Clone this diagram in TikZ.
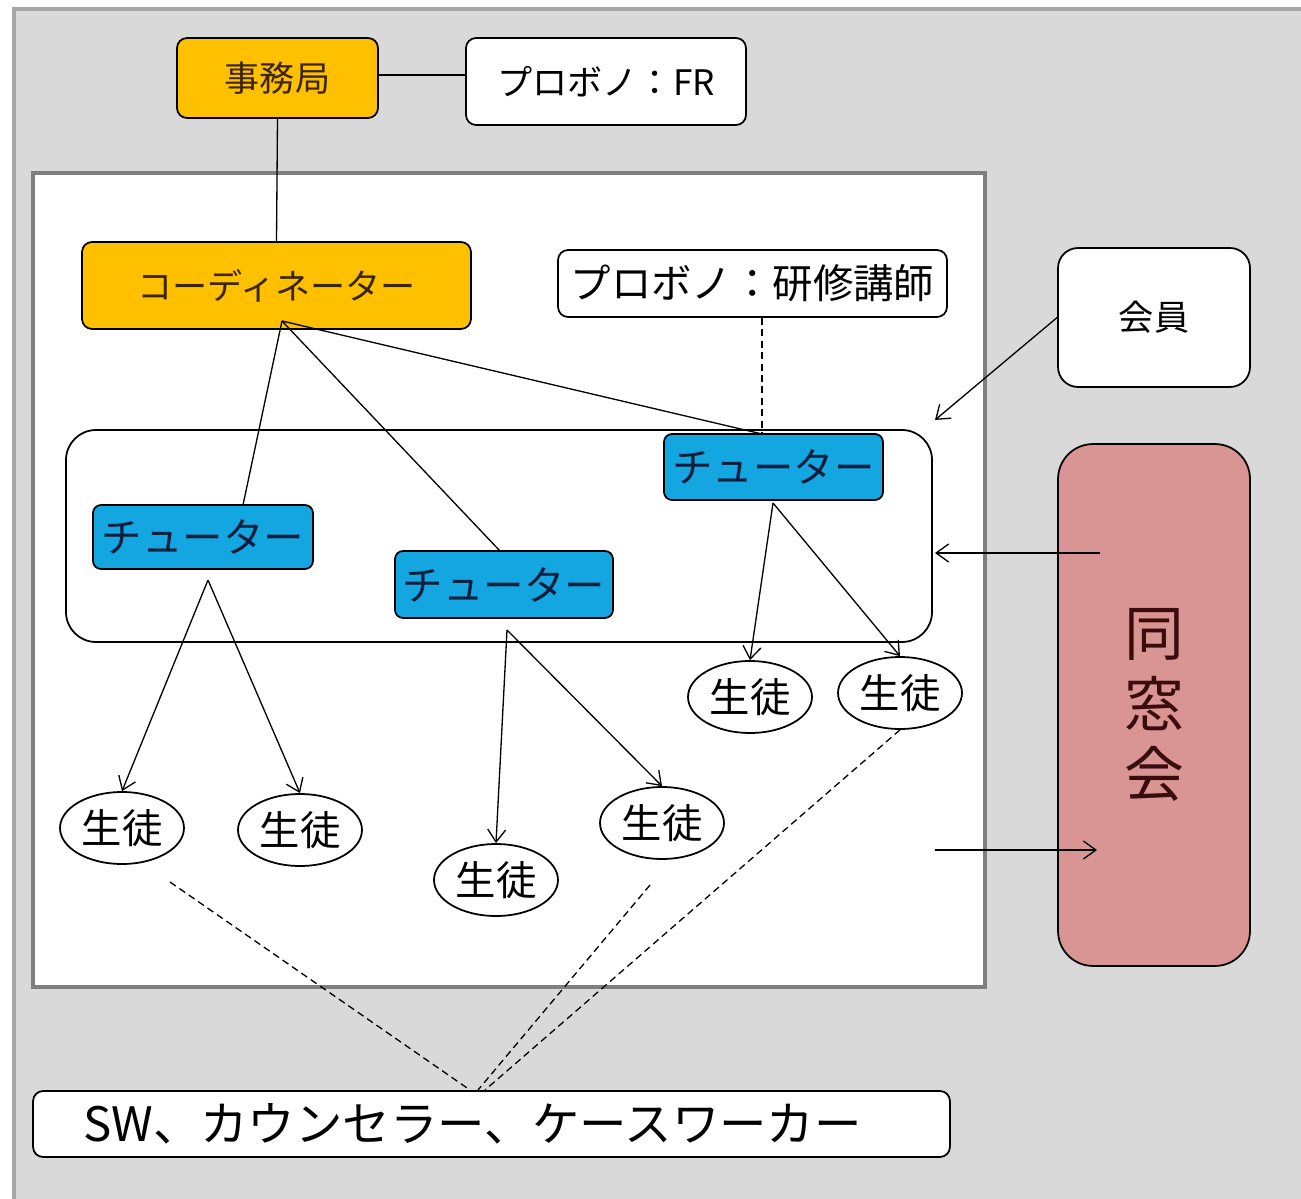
\documentclass[tikz,border=0pt]{standalone}
\usepackage{fontspec}
\setmainfont{Noto Sans CJK JP}
\usetikzlibrary{arrows.meta,shapes.geometric}
\definecolor{bggray}{HTML}{D9D9D9}
\definecolor{edgegray}{HTML}{A6A6A6}
\definecolor{framegray}{HTML}{7F7F7F}
\definecolor{jimuorange}{HTML}{FFC000}
\definecolor{tutorblue}{HTML}{14A6E0}
\definecolor{dosopink}{HTML}{D99594}
\definecolor{dosotext}{HTML}{3A0C0C}
\definecolor{tutortext}{HTML}{0B1E3C}
\definecolor{orangetext}{HTML}{3A2600}
\tikzset{
  box/.style={draw, line width=1pt, rounded corners=2mm, inner sep=0pt},
  orangebox/.style={box, fill=jimuorange, text=orangetext},
  whitebox/.style={box, fill=white},
  tutorbox/.style={box, fill=tutorblue, text=tutortext, rounded corners=1.6mm,
    font=\fontsize{23}{23}\selectfont},
  student/.style={draw, ellipse, line width=1pt, fill=white, inner sep=0pt,
    minimum width=2.48cm, minimum height=1.44cm, font=\fontsize{23}{23}\selectfont},
  link/.style={line width=0.75pt},
  arrowlink/.style={link, -{Straight Barb[length=2.5mm, width=3.6mm]}},
  dashlink/.style={link, dash pattern=on 4pt off 2.5pt}
}
\begin{document}
\begin{tikzpicture}[x=0.02cm, y=-0.02cm]
  \useasboundingbox (0,0) rectangle (1301,1199);
  % background and frames
  \fill[white] (0,0) rectangle (1301,1199);
  \fill[bggray] (14,9) rectangle (1301,1199);
  \draw[edgegray, line width=2pt] (14,1199) -- (14,9) -- (1301,9);
  \draw[framegray, fill=white, line width=2.4pt] (33,173) rectangle (985,987);
  \draw[line width=1pt, fill=white, rounded corners=6mm] (66,430) rectangle (932,642);

  % top boxes
  \node[orangebox, minimum width=4.02cm, minimum height=1.6cm,
    font=\fontsize{20}{20}\selectfont] (jimu) at (277.5,78) {事務局};
  \node[whitebox, minimum width=5.6cm, minimum height=1.74cm,
    font=\fontsize{20}{20}\selectfont] (fr) at (606,81.5) {プロボノ：FR};
  \node[orangebox, minimum width=7.78cm, minimum height=1.74cm,
    font=\fontsize{20}{20}\selectfont] (coord) at (276.5,285.5) {コーディネーター};
  \node[whitebox, minimum width=7.78cm, minimum height=1.34cm,
    font=\fontsize{23}{23}\selectfont] (kenshu) at (752.5,283.5) {プロボノ：研修講師};
  \node[whitebox, rounded corners=4mm, minimum width=3.84cm, minimum height=2.78cm,
    font=\fontsize{20}{20}\selectfont] (kaiin) at (1154,317.5) {会員};
  \node[box, fill=dosopink, text=dosotext, rounded corners=7mm, align=center,
    minimum width=3.84cm, minimum height=10.44cm,
    font=\fontsize{34}{40}\selectfont] (doso) at (1154,705) {同\\窓\\会};

  % tutors
  \node[tutorbox, minimum width=4.4cm, minimum height=1.28cm] (tutor1) at (203,537) {チューター};
  \node[tutorbox, minimum width=4.36cm, minimum height=1.34cm] (tutor2) at (504,584.5) {チューター};
  \node[tutorbox, minimum width=4.38cm, minimum height=1.32cm] (tutor3) at (773.5,467) {チューター};

  % students
  \node[student] (s1) at (122,828) {生徒};
  \node[student] (s2) at (300,830) {生徒};
  \node[student] (s3) at (496,880) {生徒};
  \node[student] (s4) at (662,823) {生徒};
  \node[student] (s5) at (750,697) {生徒};
  \node[student] (s6) at (900,693) {生徒};

  \node[whitebox, minimum width=18.34cm, text width=18.34cm, minimum height=1.32cm,
    align=left, font=\fontsize{27}{27}\selectfont] (sw) at (491.5,1124)
    {\hspace*{1cm}SW、カウンセラー、ケースワーカー};

  % connector points
  \coordinate (capex) at (282,321);
  \coordinate (t1top) at (243,505);
  \coordinate (t2top) at (500,551);
  \coordinate (t3top) at (762,434);
  \coordinate (t1foot) at (208,580);
  \coordinate (t2foot) at (507,630);
  \coordinate (t3foot) at (773,503);
  \coordinate (kaiinend) at (935,420);
  \coordinate (dosostart) at (1100,553);
  \coordinate (groupend) at (935,553);
  \coordinate (innerstart) at (935,850);
  \coordinate (dosoend) at (1097,850);
  \coordinate (d1) at (170,882);
  \coordinate (d2) at (650,885);
  \coordinate (swtop1) at (470,1090);
  \coordinate (swtop2) at (478,1090);
  \coordinate (swtop3) at (485,1090);

  % lines
  \draw[link] (jimu.east |- 0,75) -- (fr.west |- 0,75);
  \draw[link] (jimu.south) -- (coord.north);
  \draw[link] (capex) -- (t1top);
  \draw[link] (capex) -- (t2top);
  \draw[link] (capex) -- (t3top);
  \draw[dashlink] (kenshu.south -| t3top) -- (t3top);

  \draw[arrowlink] (t1foot) -- (s1.north);
  \draw[arrowlink] (t1foot) -- (s2.north);
  \draw[arrowlink] (t2foot) -- (s3.north);
  \draw[arrowlink] (t2foot) -- (s4.north);
  \draw[arrowlink] (t3foot) -- (s5.north);
  \draw[arrowlink] (t3foot) -- (s6.north);

  \draw[arrowlink] (kaiin.west) -- (kaiinend);
  \draw[arrowlink] (dosostart) -- (groupend);
  \draw[arrowlink] (innerstart) -- (dosoend);

  \draw[dashlink] (d1) -- (swtop1);
  \draw[dashlink] (d2) -- (swtop2);
  \draw[dashlink] (s6.south) -- (swtop3);
\end{tikzpicture}
\end{document}
